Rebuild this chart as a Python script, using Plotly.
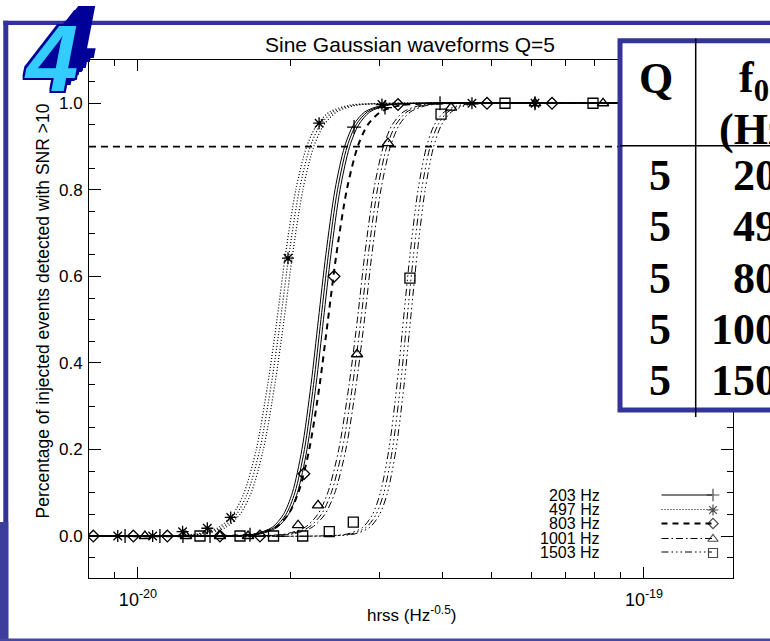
import plotly.graph_objects as go

# ------------------------------------------------------------------ data
FREQS = ["203 Hz", "497 Hz", "803 Hz", "1001 Hz", "1503 Hz"]
TITLE = "Sine Gaussian waveforms Q=5"
X_TITLE = "hrss (Hz<sup>-0.5</sup>)"
Y_TITLE = "Percentage of injected events detected with SNR >10"
THRESHOLD = 0.9

# fitted efficiency curves: detection fraction levels and hrss read at each level
FIT_P = [0.0, 0.001, 0.005, 0.02, 0.05, 0.1, 0.2, 0.35, 0.5, 0.65, 0.8, 0.9, 0.95, 0.98, 0.995, 0.999, 1.0]
FIT_H_203 = [8.0e-21, 1.582e-20, 1.726e-20, 1.863e-20, 1.961e-20, 2.042e-20, 2.133e-20, 2.223e-20, 2.299e-20,
             2.378e-20, 2.479e-20, 2.590e-20, 2.697e-20, 2.839e-20, 3.063e-20, 3.343e-20, 1.5e-19]
FIT_H_497 = [8.0e-21, 1.194e-20, 1.333e-20, 1.467e-20, 1.565e-20, 1.647e-20, 1.741e-20, 1.834e-20, 1.913e-20,
             1.988e-20, 2.084e-20, 2.190e-20, 2.293e-20, 2.431e-20, 2.648e-20, 2.925e-20, 1.5e-19]
FIT_H_803 = [8.0e-21, 1.553e-20, 1.715e-20, 1.869e-20, 1.982e-20, 2.074e-20, 2.180e-20, 2.286e-20, 2.374e-20,
             2.466e-20, 2.586e-20, 2.718e-20, 2.844e-20, 3.015e-20, 3.286e-20, 3.630e-20, 1.5e-19]
FIT_H_1001 = [8.0e-21, 1.804e-20, 1.994e-20, 2.173e-20, 2.303e-20, 2.410e-20, 2.534e-20, 2.656e-20, 2.758e-20,
              2.852e-20, 2.972e-20, 3.104e-20, 3.231e-20, 3.399e-20, 3.664e-20, 3.998e-20, 1.5e-19]
FIT_H_1503 = [8.0e-21, 2.444e-20, 2.642e-20, 2.825e-20, 2.955e-20, 3.062e-20, 3.183e-20, 3.303e-20, 3.401e-20,
              3.504e-20, 3.635e-20, 3.779e-20, 3.915e-20, 4.096e-20, 4.378e-20, 4.733e-20, 1.5e-19]

# measured points
PTS_H_203 = [9.43e-21, 1.105e-20, 1.227e-20, 1.388e-20, 1.665e-20, 2.673e-20, 3.077e-20, 3.953e-20, 6.090e-20]
PTS_P_203 = [0.0, 0.0, 0.0, 0.0, 0.003, 0.945, 0.99, 1.0, 1.0]
PTS_H_497 = [9.12e-21, 1.069e-20, 1.225e-20, 1.371e-20, 1.525e-20, 1.979e-20, 2.280e-20, 3.035e-20, 4.571e-20, 6.090e-20]
PTS_P_497 = [0.0, 0.0, 0.01, 0.018, 0.043, 0.642, 0.954, 0.997, 1.0, 1.0]
PTS_H_803 = [8.16e-21, 9.79e-21, 1.143e-20, 1.452e-20, 1.742e-20, 2.128e-20, 2.440e-20, 3.265e-20, 4.895e-20, 6.580e-20]
PTS_P_803 = [0.0, 0.0, 0.0, 0.0, 0.0, 0.144, 0.60, 0.997, 1.0, 1.0]
PTS_H_1001 = [1.032e-20, 1.244e-20, 1.452e-20, 1.650e-20, 2.072e-20, 2.269e-20, 2.710e-20, 3.119e-20, 4.156e-20, 6.090e-20, 8.30e-20]
PTS_P_1001 = [0.0, 0.0, 0.0, 0.0, 0.025, 0.071, 0.42, 0.908, 0.99, 1.0, 1.0]
PTS_H_1503 = [1.326e-20, 1.591e-20, 1.853e-20, 2.116e-20, 2.388e-20, 2.664e-20, 3.447e-20, 3.971e-20, 5.313e-20, 7.93e-20]
PTS_P_1503 = [0.0, 0.0, 0.0, 0.0, 0.01, 0.032, 0.596, 0.975, 1.0, 1.0]

# table on the slide
TABLE_HEAD_Q = "Q"
TABLE_HEAD_F = "f<sub>0</sub>"
TABLE_HEAD_UNIT = "(Hz)"
TABLE_Q = ["5", "5", "5", "5", "5"]
TABLE_F0 = ["203", "497", "803", "1001", "1503"]

# axes
X_MAJOR_TICKS = [1e-20, 1e-19]
X_TICK_TEXT = ["10<sup>-20</sup>", "10<sup>-19</sup>"]
X_MINOR_TICKS = [9e-21, 2e-20, 3e-20, 4e-20, 5e-20, 6e-20, 7e-20, 8e-20, 9e-20]
Y_TICKS = [0.0, 0.2, 0.4, 0.6, 0.8, 1.0]
X_RANGE_LOG = [-20.0968, -18.8241]
Y_RANGE = [-0.097, 1.1]

# ------------------------------------------------------------------ styles
FONT = "Liberation Sans"
SERIF = "Liberation Serif"
BLUE = "#333399"
W, H = 770, 641
PL, PR, PT, PB = 89, 733, 60, 578


def fx(px):
    return (px - PL) / (PR - PL)


def fy(py):
    return (PB - py) / (PB - PT)


FIT_H = dict(zip(FREQS, [FIT_H_203, FIT_H_497, FIT_H_803, FIT_H_1001, FIT_H_1503]))
PTS_H = dict(zip(FREQS, [PTS_H_203, PTS_H_497, PTS_H_803, PTS_H_1001, PTS_H_1503]))
PTS_P = dict(zip(FREQS, [PTS_P_203, PTS_P_497, PTS_P_803, PTS_P_1001, PTS_P_1503]))

STYLE = {
    "203 Hz": dict(dash="solid", width=1.0, symbol="cross-thin-open", size=10, band=("x2", "x3")),
    "497 Hz": dict(dash="1px,2px", width=1.2, symbol="asterisk-open", size=10, band=("x4", "x5")),
    "803 Hz": dict(dash="6px,5px", width=2.0, symbol="diamond-open", size=9, band=()),
    "1001 Hz": dict(dash="7px,3px,1.5px,3px", width=1.0, symbol="triangle-up-open", size=10, band=("x4", "x5")),
    "1503 Hz": dict(dash="7px,3px,1.5px,3px,1.5px,3px,1.5px,3px", width=1.0, symbol="square-open", size=10,
                    band=("x4", "x5")),
}
SHIFT_SMALL = 0.005  # band offset of the triple-line fit drawing (in decades)
SHIFT_LARGE = 0.007

fig = go.Figure()

for f in FREQS:
    st = STYLE[f]
    line = dict(color="black", width=st["width"], dash=st["dash"], shape="spline", smoothing=0.8)
    for ax in ("x",) + st["band"]:
        fig.add_trace(go.Scatter(x=FIT_H[f], y=FIT_P, mode="lines", line=line, xaxis=ax, yaxis="y",
                                 hoverinfo="skip", showlegend=False))

for f in FREQS:
    st = STYLE[f]
    fig.add_trace(go.Scatter(
        x=PTS_H[f], y=PTS_P[f], mode="markers", showlegend=False, xaxis="x", yaxis="y",
        marker=dict(symbol=st["symbol"], size=st["size"], color="black",
                    line=dict(color="black", width=1.3)),
        name=f))

# legend key (drawn by hand, text on the left, key on the right)
LEG_ROWS = [495, 509.5, 523.5, 538.5, 552]
LEG_MARK_ROWS = [495, 510, 523.5, 539, 553]
fig.add_trace(go.Scatter(
    x=[fx(713)] * len(FREQS), y=[fy(r) for r in LEG_MARK_ROWS], mode="markers", xaxis="x6", yaxis="y2",
    marker=dict(symbol=[STYLE[f]["symbol"] for f in FREQS], size=[STYLE[f]["size"] - 1 for f in FREQS],
                color="black", line=dict(color="black", width=1.2)),
    showlegend=False, hoverinfo="skip", cliponaxis=False))

shapes = []
# threshold line
shapes.append(dict(type="line", xref="paper", yref="y", x0=0, x1=1, y0=THRESHOLD, y1=THRESHOLD,
                   line=dict(color="black", width=1.7, dash="7px,5px"), layer="above"))
for f, r in zip(FREQS, LEG_ROWS):
    st = STYLE[f]
    shapes.append(dict(type="line", xref="paper", yref="paper", x0=fx(661.5), x1=fx(712), y0=fy(r), y1=fy(r),
                       line=dict(color="black", width=max(st["width"], 1.2), dash=st["dash"]), layer="above"))


# slide frame
def rect(x0, y0, x1, y1, color):
    return dict(type="rect", xref="paper", yref="paper", x0=fx(x0), x1=fx(x1), y0=fy(y1), y1=fy(y0),
                fillcolor=color, line=dict(width=0), layer="above")


shapes.append(rect(3.3, 20.7, 790, 25, BLUE))
shapes.append(rect(3.3, 20.7, 8.3, 645, BLUE))
shapes.append(rect(0, 522, 8.3, 645, "#3d3d9e"))
shapes.append(rect(0, 638.5, 790, 645, "#4646a3"))

# table
shapes.append(dict(type="rect", xref="paper", yref="paper", x0=fx(620), x1=fx(840), y0=fy(410), y1=fy(40.8),
                   fillcolor="white", line=dict(color=BLUE, width=5), layer="above"))
shapes.append(dict(type="line", xref="paper", yref="paper", x0=fx(695.7), x1=fx(695.7), y0=fy(417), y1=fy(38.5),
                   line=dict(color="black", width=1.5), layer="above"))
shapes.append(dict(type="line", xref="paper", yref="paper", x0=fx(620), x1=fx(840), y0=fy(145.7), y1=fy(145.7),
                   line=dict(color="black", width=1.5), layer="above"))

ann = []
ann.append(dict(text=TITLE, x=fx(410), y=fy(45), xref="paper", yref="paper", showarrow=False,
                xanchor="center", yanchor="middle", font=dict(family=FONT, size=21, color="black")))
ann.append(dict(text=Y_TITLE, x=fx(42.5), y=fy(311), xref="paper", yref="paper", showarrow=False, textangle=-90,
                xanchor="center", yanchor="middle", font=dict(family=FONT, size=17.5, color="black")))
ann.append(dict(text=X_TITLE, x=fx(411), y=fy(614), xref="paper", yref="paper", showarrow=False,
                xanchor="center", yanchor="middle", font=dict(family=FONT, size=17, color="black")))
for f, r in zip(FREQS, LEG_ROWS):
    ann.append(dict(text=f, x=fx(602), y=fy(r), xref="paper", yref="paper", showarrow=False,
                    xanchor="right", yanchor="middle", font=dict(family=FONT, size=16, color="black")))

# table text
TFONT = dict(family=SERIF, size=44, color="black", weight="bold")
ann.append(dict(text=TABLE_HEAD_Q, x=fx(656), y=fy(78), xref="paper", yref="paper", showarrow=False,
                xanchor="center", yanchor="middle", font=TFONT))
ann.append(dict(text=TABLE_HEAD_F, x=fx(737), y=fy(80), xref="paper", yref="paper", showarrow=False,
                xanchor="left", yanchor="middle", font=TFONT))
ann.append(dict(text=TABLE_HEAD_UNIT, x=fx(717), y=fy(130), xref="paper", yref="paper", showarrow=False,
                xanchor="left", yanchor="middle", font=TFONT))
ROW_Y = [175, 226.5, 278, 329, 380]
for q, f0, r in zip(TABLE_Q, TABLE_F0, ROW_Y):
    ann.append(dict(text=q, x=fx(660), y=fy(r), xref="paper", yref="paper", showarrow=False,
                    xanchor="center", yanchor="middle", font=TFONT))
    ann.append(dict(text=f0, x=fx(801), y=fy(r), xref="paper", yref="paper", showarrow=False,
                    xanchor="right", yanchor="middle", font=TFONT))

# slide logo "4"
LOGO_DARK = "#000099"
for cx, cy in [(70, 38), (66, 43), (62, 48), (58, 53)]:
    ann.append(dict(text="4", x=fx(cx), y=fy(cy), xref="paper", yref="paper", showarrow=False,
                    xanchor="center", yanchor="middle",
                    font=dict(family=FONT, size=94, color=LOGO_DARK, weight="bold", style="italic")))
outline = ", ".join(f"{dx}px {dy}px 0 {LOGO_DARK}" for dx, dy in
                    [(2, 0), (-2, 0), (0, 2), (0, -2), (2, 2), (-2, -2), (2, -2), (-2, 2)])
ann.append(dict(text="4", x=fx(51), y=fy(59), xref="paper", yref="paper", showarrow=False,
                xanchor="center", yanchor="middle",
                font=dict(family=FONT, size=94, color="#33ccff", weight="bold", style="italic", shadow=outline)))

axis_common = dict(showgrid=False, zeroline=False, showline=True, linecolor="black", linewidth=1,
                   mirror="ticks", ticks="inside", tickcolor="black", tickwidth=1)


def shifted(d):
    return dict(type="log", overlaying="x", anchor="y", visible=False,
                range=[X_RANGE_LOG[0] + d, X_RANGE_LOG[1] + d])


fig.update_layout(
    width=W, height=H,
    margin=dict(l=PL, r=W - PR, t=PT, b=H - PB, pad=0),
    paper_bgcolor="white", plot_bgcolor="white", showlegend=False,
    xaxis=dict(type="log", range=X_RANGE_LOG, tickmode="array", tickvals=X_MAJOR_TICKS, ticktext=X_TICK_TEXT,
               ticklen=11, ticklabelstandoff=5, tickfont=dict(family=FONT, size=18, color="black"),
               minor=dict(tickmode="array", tickvals=X_MINOR_TICKS, ticks="inside", ticklen=6,
                          tickcolor="black", tickwidth=1),
               **axis_common),
    yaxis=dict(range=Y_RANGE, tickmode="array", tickvals=Y_TICKS, tickformat=".1f", ticklen=12,
               ticklabelstandoff=2, tickfont=dict(family=FONT, size=17, color="black"),
               minor=dict(dtick=0.05, tick0=0, ticks="inside", ticklen=6, tickcolor="black", tickwidth=1),
               **axis_common),
    xaxis2=shifted(SHIFT_SMALL), xaxis3=shifted(-SHIFT_SMALL),
    xaxis4=shifted(SHIFT_LARGE), xaxis5=shifted(-SHIFT_LARGE),
    xaxis6=dict(range=[0, 1], overlaying="x", anchor="y2", visible=False),
    yaxis2=dict(range=[0, 1], overlaying="y", anchor="x6", visible=False),
    shapes=shapes, annotations=ann,
)

fig.write_html("out.html", config={"displayModeBar": False},
               post_script="document.body.style.margin='0px';document.body.style.overflow='hidden';")
